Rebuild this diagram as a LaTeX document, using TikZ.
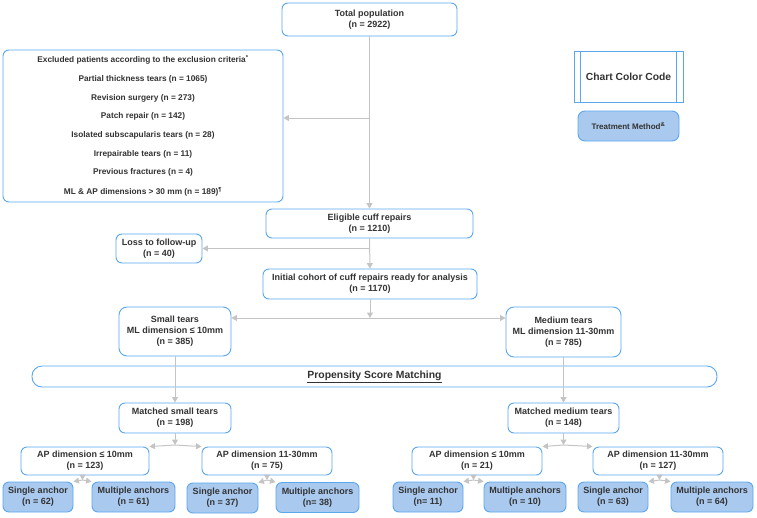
\documentclass[tikz,border=0pt]{standalone}
\usepackage{fontspec}
\setmainfont{Liberation Sans}
\usepackage{xcolor}
\usetikzlibrary{arrows.meta, positioning}

\definecolor{boxblue}{HTML}{5AA7EE}
\definecolor{treatblue}{HTML}{A9C9EF}
\definecolor{linegray}{HTML}{C4C4C4}
\definecolor{txtgray}{HTML}{333333}

\tikzset{
  box/.style={draw=boxblue, line width=0.9pt, rounded corners=6pt, fill=white, text=txtgray,
    align=center, inner sep=0pt, font=\fontsize{9}{11}\selectfont\bfseries},
  treat/.style={box, fill=treatblue},
  conn/.style={draw=linegray, line width=1pt, ->},
}

\begin{document}
\begin{tikzpicture}[x=1pt, y=-1pt, >={Triangle[length=5.5pt, width=6pt]}]
    \useasboundingbox (0,0) rectangle (757,517);
    \node[box, minimum width=175, minimum height=33] (total) at (369.5,19.5) {Total population\\(n = 2922)};
    \node[box, minimum width=280, minimum height=152, font=\fontsize{8.3}{10}\selectfont\bfseries] (excl) at (143,126)
      {Excluded patients according to the exclusion criteria\textsuperscript{*}\\[8.7pt]
       Partial thickness tears (n = 1065)\\[8.7pt] Revision surgery (n = 273)\\[8.7pt]
       Patch repair (n = 142)\\[8.7pt] Isolated subscapularis tears (n = 28)\\[8.7pt]
       Irrepairable tears (n = 11)\\[8.7pt] Previous fractures (n = 4)\\[9.5pt]
       ML \& AP dimensions > 30 mm (n = 189)\textsuperscript{¶}};
    \node[box, minimum width=207, minimum height=29] (elig) at (369.5,223.5) {Eligible cuff repairs\\(n = 1210)};
    \node[box, minimum width=86, minimum height=29] (loss) at (159,248.5) {Loss to follow-up\\(n = 40)};
    \node[box, minimum width=214, minimum height=30] (init) at (370,284) {Initial cohort of cuff repairs ready for analysis\\(n = 1170)};
    \node[box, rounded corners=8pt, minimum width=112, minimum height=49] (small) at (175,331.5) {Small tears\\ML dimension ≤ 10mm\\(n = 385)};
    \node[box, rounded corners=8pt, minimum width=115, minimum height=50] (medium) at (563.5,332) {Medium tears\\ML dimension 11-30mm\\(n = 785)};
    \node[box, rounded corners=10pt, minimum width=685, minimum height=21, font=\fontsize{10.4}{12}\selectfont\bfseries] (psm) at (374.5,376.5) {\underline{Propensity Score Matching}};
    \node[box, minimum width=112, minimum height=30] (msmall) at (175,418) {Matched small tears\\(n = 198)};
    \node[box, minimum width=111, minimum height=30] (mmedium) at (563.5,418) {Matched medium tears\\(n = 148)};

    \node[box, minimum width=128, minimum height=28] (sapa) at (85,461) {AP dimension ≤ 10mm\\(n = 123)};
    \node[box, minimum width=130, minimum height=28] (sapb) at (267,461) {AP dimension 11-30mm\\(n = 75)};
    \node[box, minimum width=130, minimum height=28] (mapa) at (477,461) {AP dimension ≤ 10mm\\(n = 21)};
    \node[box, minimum width=130, minimum height=28] (mapb) at (658,461) {AP dimension 11-30mm\\(n = 127)};

    \node[treat, minimum width=70, minimum height=30] (ssa) at (38,497) {Single anchor\\(n = 62)};
    \node[treat, minimum width=83, minimum height=30] (sma) at (133.5,497) {Multiple anchors\\(n = 61)};
    \node[treat, minimum width=71, minimum height=30] (ssb) at (222.5,498) {Single anchor\\(n = 37)};
    \node[treat, minimum width=83, minimum height=30] (smb) at (317.5,497.5) {Multiple anchors\\(n= 38)};
    \node[treat, minimum width=70, minimum height=30] (msa) at (428,497) {Single anchor\\(n= 11)};
    \node[treat, minimum width=82, minimum height=30] (mma) at (525,497) {Multiple anchors\\(n = 10)};
    \node[treat, minimum width=70, minimum height=30] (msb) at (613,497) {Single anchor\\(n = 63)};
    \node[treat, minimum width=82, minimum height=30] (mmb) at (712,497) {Multiple anchors\\(n = 64)};

    \node[draw=boxblue, line width=0.9pt, fill=white, text=txtgray, inner sep=0pt, minimum width=109, minimum height=51,
      font=\fontsize{10.3}{12}\selectfont\bfseries] (chart) at (628.5,76.5) {Chart Color Code};
    \draw[boxblue, line width=0.7pt] ([xshift=7pt]chart.north west) -- ([xshift=7pt]chart.south west);
    \draw[boxblue, line width=0.7pt] ([xshift=-7pt]chart.north east) -- ([xshift=-7pt]chart.south east);
    \node[treat, rounded corners=7pt, minimum width=101, minimum height=30, font=\fontsize{8}{10}\selectfont\bfseries] (legtreat) at (628.5,126) {Treatment Method\textsuperscript{\&}};

    \coordinate (jexcl) at (369.5,118);
    \coordinate (jsplit) at (370,318);
    \draw[conn] (total) -- (elig);
    \draw[conn] (jexcl) -- (excl.east |- jexcl);
    \draw[conn] (elig) -- (init);
    \draw[conn] (elig.south |- loss.east) -- (loss.east);
    \draw[conn] (init) -- (jsplit);
    \draw[conn] (jsplit) -- (small.east |- jsplit);
    \draw[conn] (jsplit) -- (medium.west |- jsplit);
    \draw[conn] (small) -- (msmall);
    \draw[conn] (medium) -- (mmedium);

    \coordinate (jsm) at (175,445);
    \coordinate (jmm) at (563.5,445);
    \draw[conn] (msmall) -- (jsm);
    \draw[conn] (jsm) -- (sapa.north east);
    \draw[conn] (jsm) -- (sapb.north west);
    \draw[conn] (mmedium) -- (jmm);
    \draw[conn] (jmm) -- (mapa.north east);
    \draw[conn] (jmm) -- (mapb.north west);

    \coordinate (jsa) at (82.5,480);
    \coordinate (jsb) at (267,480);
    \coordinate (jma) at (473.5,480);
    \coordinate (jmb) at (659.5,480);
    \draw[conn] (sapa.south -| jsa) -- (jsa);
    \draw[conn] (jsa) -- (ssa.north east);
    \draw[conn] (jsa) -- (sma.north west);
    \draw[conn] (sapb.south -| jsb) -- (jsb);
    \draw[conn] (jsb) -- (ssb.north east);
    \draw[conn] (jsb) -- (smb.north west);
    \draw[conn] (mapa.south -| jma) -- (jma);
    \draw[conn] (jma) -- (msa.north east);
    \draw[conn] (jma) -- (mma.north west);
    \draw[conn] (mapb.south -| jmb) -- (jmb);
    \draw[conn] (jmb) -- (msb.north east);
    \draw[conn] (jmb) -- (mmb.north west);
\end{tikzpicture}
\end{document}
